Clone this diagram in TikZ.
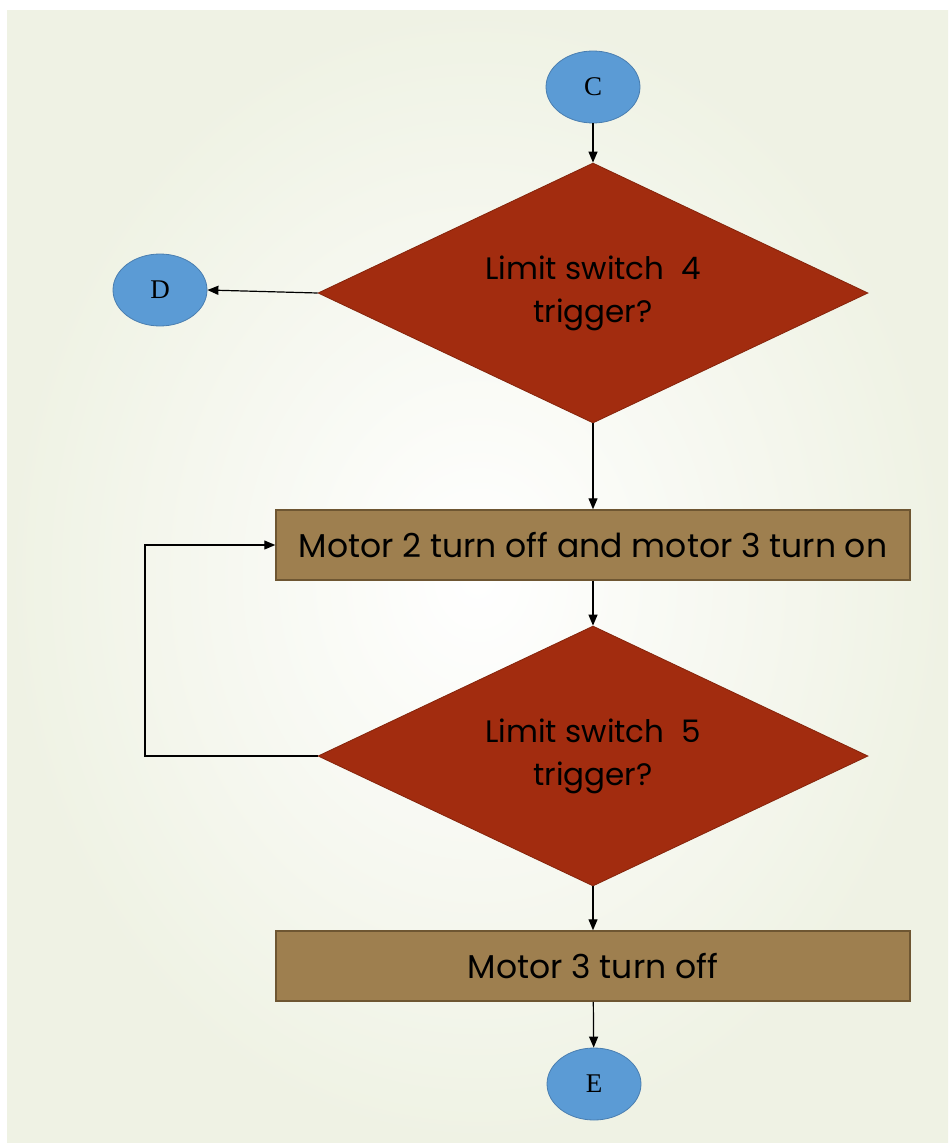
\documentclass[tikz,border=0pt]{standalone}
\usepackage{fontspec}
\usetikzlibrary{shapes.geometric,arrows.meta}
\newfontfamily\gothic{Poppins}
\newfontfamily\serifc{Liberation Serif}
\definecolor{bgc}{HTML}{EFF2E4}
\definecolor{decfill}{HTML}{A22C0F}
\definecolor{decdraw}{HTML}{85240B}
\definecolor{boxfill}{HTML}{9E7F4F}
\definecolor{boxdraw}{HTML}{6E5632}
\definecolor{ovfill}{HTML}{5B9BD5}
\definecolor{ovdraw}{HTML}{4A7EB0}
\tikzset{
  conn/.style={ellipse, fill=ovfill, draw=ovdraw, line width=0.8pt, minimum width=94pt, minimum height=72pt, inner sep=0pt, font=\serifc\fontsize{27}{30}\selectfont},
  decision/.style={diamond, aspect=2.1, fill=decfill, draw=decdraw, line width=0.8pt, minimum width=550pt, minimum height=260pt, inner sep=0pt, align=center, font=\gothic\fontsize{31}{43}\selectfont},
  procbox/.style={rectangle, fill=boxfill, draw=boxdraw, line width=1.5pt, minimum width=634pt, minimum height=70pt, inner sep=0pt, font=\gothic\fontsize{33}{36}\selectfont},
  arr/.style={draw=black, line width=1.2pt, -{Triangle[length=11pt,width=9pt]}}
}
\begin{document}
\begin{tikzpicture}[x=1pt,y=-1pt]
\useasboundingbox (0,0) rectangle (948,1143);
\fill[white] (0,0) rectangle (948,1143);
\shade[inner color=white, outer color=bgc] (7,10) rectangle (948,1143);
\node[conn] (C) at (593,87) {C};
\node[decision] (d1) at (593,293) {Limit switch \ 4\\trigger?};
\node[conn] (D) at (160,290) {D};
\node[procbox] (b1) at (593,545) {Motor 2 turn off and motor 3 turn on};
\node[decision] (d2) at (593,756) {Limit switch \ 5\\trigger?};
\node[procbox] (b2) at (593,966) {Motor 3 turn off};
\node[conn] (E) at (594,1084) {E};
\coordinate (lp) at (145,756);
\draw[arr] (C) -- (d1);
\draw[arr] (d1.west) -- (D.east);
\draw[arr] (d1) -- (b1);
\draw[arr] (b1) -- (d2);
\draw[arr] (d2.west) -- (lp) |- (b1.west);
\draw[arr] (d2) -- (b2);
\draw[arr] (b2) -- (E);
\end{tikzpicture}
\end{document}
